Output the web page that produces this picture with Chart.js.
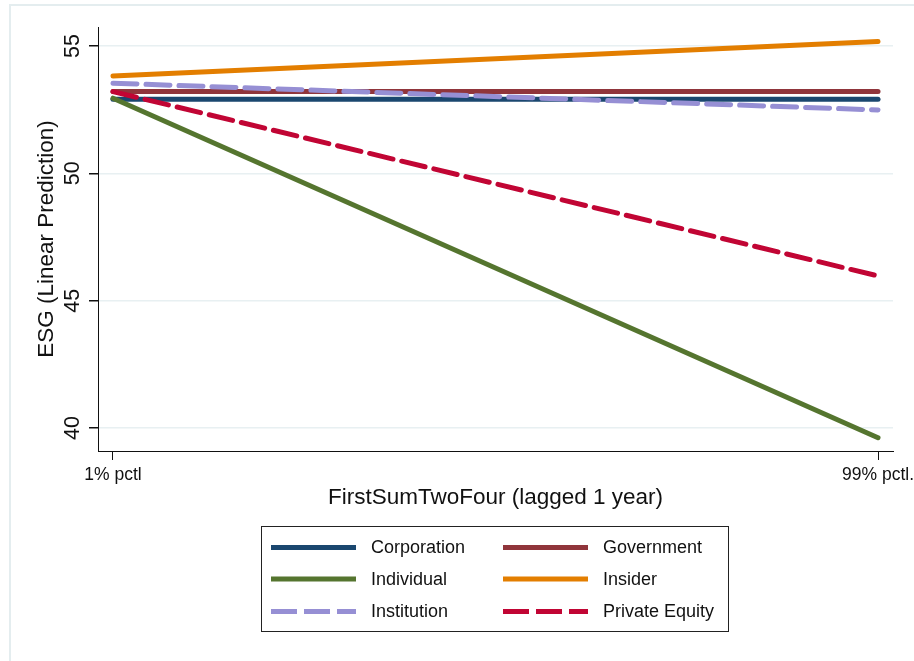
<!DOCTYPE html>
<html>
<head>
<meta charset="utf-8">
<script src="https://cdn.jsdelivr.net/npm/chart.js@4"></script>
<style>
  html, body { margin: 0; padding: 0; background: #fff; }
  canvas { display: block; }
</style>
</head>
<body>
<canvas id="esg-chart" width="914" height="661"></canvas>
<script>
// Data
const xValues = [1, 99];
const xTickLabels = ['1% pctl', '99% pctl.'];
const yTicks = [40, 45, 50, 55];

const seriesNames = ['Corporation', 'Government', 'Individual', 'Insider', 'Institution', 'Private Equity'];
const corporation = [52.91, 52.91];
const government = [53.21, 53.21];
const individual = [52.95, 39.62];
const insider = [53.82, 55.18];
const institution = [53.54, 52.49];
const privateEquity = [53.21, 45.97];

const seriesValues = [corporation, government, individual, insider, institution, privateEquity];
const seriesColors = ['#1a476f', '#90353b', '#55752f', '#e37e00', '#968fd4', '#c10534'];
const seriesDashed = [false, false, false, false, true, true];

const font = 'Liberation Sans, Arial, Helvetica, sans-serif';

const datasets = seriesNames.map((name, i) => ({
  label: name,
  data: xValues.map((x, j) => ({ x, y: seriesValues[i][j] })),
  borderColor: seriesColors[i],
  backgroundColor: seriesColors[i],
  borderWidth: 5,
  borderCapStyle: 'round',
  borderDash: seriesDashed[i] ? [24, 9] : [],
  pointRadius: 0,
  tension: 0,
  // later series on top, like Stata draws them
  order: seriesNames.length - 1 - i,
}));

// Light frame around the graph region + white background
const framePlugin = {
  id: 'frame',
  beforeDraw(c) {
    const ctx = c.ctx;
    ctx.save();
    ctx.fillStyle = '#ffffff';
    ctx.fillRect(0, 0, c.width, c.height);
    ctx.strokeStyle = '#e4edef';
    ctx.lineWidth = 2;
    ctx.beginPath();
    ctx.moveTo(10, 661);
    ctx.lineTo(10, 5);
    ctx.lineTo(914, 5);
    ctx.stroke();
    ctx.restore();
  },
};

// Stata-style boxed legend, two columns
const boxLegend = {
  id: 'boxLegend',
  afterDraw(c) {
    const ctx = c.ctx;
    const box = { x: 261.5, y: 526.5, w: 467, h: 105 };
    const colX = [271, 503];
    const rowY = [547.5, 579, 611.5];
    ctx.save();
    ctx.strokeStyle = '#222';
    ctx.lineWidth = 1;
    ctx.strokeRect(box.x, box.y, box.w, box.h);
    ctx.font = '18px ' + font;
    ctx.textBaseline = 'middle';
    ctx.textAlign = 'left';
    c.data.datasets.forEach((ds, i) => {
      const x = colX[i % 2];
      const y = rowY[Math.floor(i / 2)];
      ctx.strokeStyle = ds.borderColor;
      ctx.lineWidth = 5;
      ctx.lineCap = 'butt';
      ctx.setLineDash(ds.borderDash.length ? [26, 7] : []);
      ctx.beginPath();
      ctx.moveTo(x, y);
      ctx.lineTo(x + 85, y);
      ctx.stroke();
      ctx.setLineDash([]);
      ctx.fillStyle = '#111';
      ctx.fillText(ds.label, x + 100, y + 1);
    });
    ctx.restore();
  },
};

new Chart(document.getElementById('esg-chart'), {
  type: 'line',
  data: { datasets },
  options: {
    responsive: false,
    animation: false,
    layout: { padding: { top: 27, right: 21, left: 0, bottom: 150 } },
    scales: {
      x: {
        type: 'linear',
        min: -0.92,
        max: 100.92,
        afterBuildTicks: (s) => { s.ticks = xValues.map(v => ({ value: v })); },
        afterFit: (s) => { s.height = 60; s.paddingLeft = 0; s.paddingRight = 0; },
        border: { display: true, color: '#111', width: 1 },
        grid: { drawOnChartArea: false, drawTicks: true, tickLength: 9, tickColor: '#111' },
        ticks: {
          padding: 5,
          maxRotation: 0,
          color: '#111',
          font: { family: font, size: 17.5 },
          callback: (v) => xTickLabels[xValues.indexOf(v)],
        },
        title: {
          display: true,
          text: 'FirstSumTwoFour (lagged 1 year)',
          color: '#111',
          font: { family: font, size: 22.5 },
          padding: { top: 0, bottom: 0 },
        },
      },
      y: {
        min: 39.097,
        max: 55.746,
        afterBuildTicks: (s) => { s.ticks = yTicks.map(v => ({ value: v })); },
        afterFit: (s) => { s.width = 98; s.paddingTop = 0; s.paddingBottom = 0; },
        border: { display: true, color: '#111', width: 1 },
        grid: { color: '#e8f0f2', lineWidth: 1.5, tickLength: 9, tickColor: '#111' },
        ticks: {
          minRotation: 90,
          maxRotation: 90,
          crossAlign: 'center',
          padding: 4,
          color: '#111',
          font: { family: font, size: 21.5 },
        },
        title: {
          display: true,
          text: 'ESG (Linear Prediction)',
          color: '#111',
          font: { family: font, size: 22.5 },
          padding: { top: 33, bottom: 0 },
        },
      },
    },
    plugins: {
      legend: { display: false },
      tooltip: { enabled: false },
    },
  },
  plugins: [framePlugin, boxLegend],
});
</script>
</body>
</html>
